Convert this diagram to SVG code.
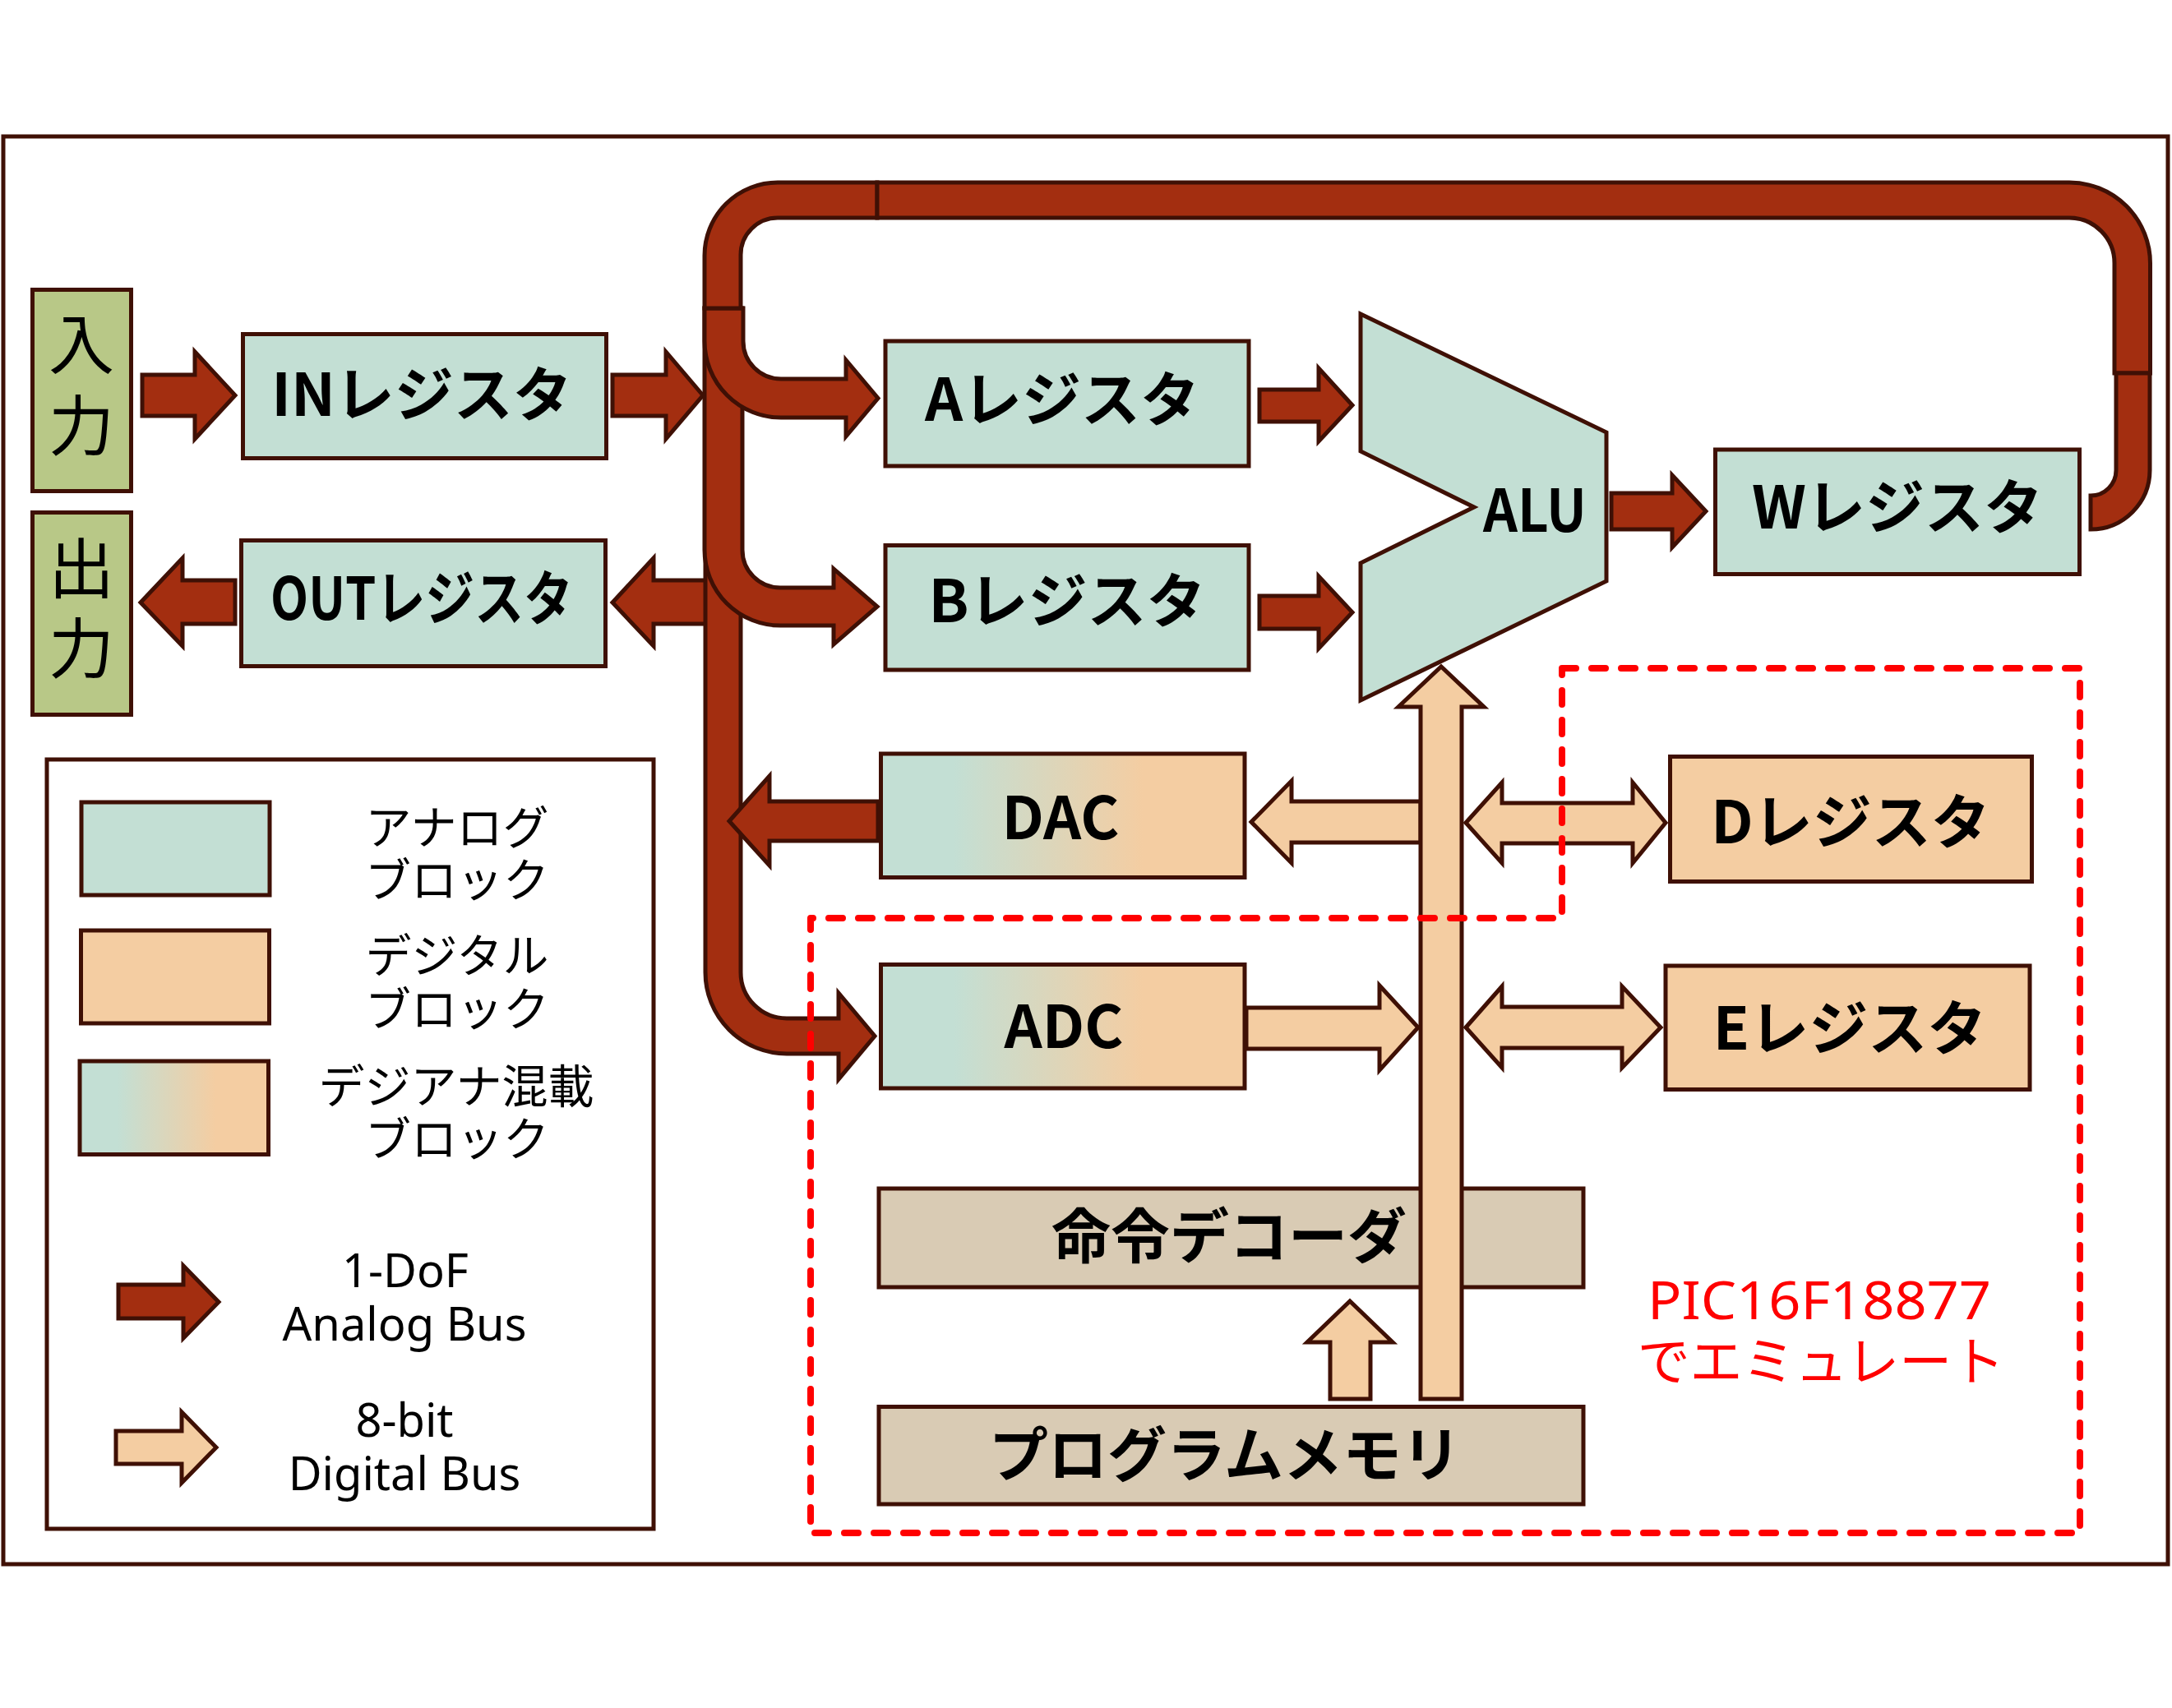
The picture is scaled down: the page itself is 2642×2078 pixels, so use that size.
<svg xmlns="http://www.w3.org/2000/svg" width="2642" height="2078" viewBox="0 0 2642 2078">
<defs>
<style>
.ol{stroke:#3F1005;stroke-width:5;stroke-linejoin:miter}
.an{fill:#A32E10}
.pe{fill:#F4CDA2}
.gr{fill:#C3DFD4}
.tn{fill:#D9CBB4}
.olv{fill:#B8C887}
.mx{fill:url(#mix)}
.reg{font-family:"Noto Sans CJK JP","Noto Sans",sans-serif;font-weight:700;font-size:72px;text-anchor:middle;fill:#000}
.jp{font-family:"Noto Sans CJK JP",sans-serif;font-weight:400;text-anchor:middle;fill:#000}
.lat{font-family:"Noto Sans","Liberation Sans",sans-serif;font-size:56px;text-anchor:middle;fill:#000}
.dash{fill:none;stroke:#FF0000;stroke-width:8;stroke-dasharray:17 19;stroke-linecap:round;stroke-linejoin:round}
</style>
<linearGradient id="mix" x1="0" y1="0" x2="1" y2="0">
<stop offset="0.2" stop-color="#C3DFD4"/>
<stop offset="0.72" stop-color="#F4CDA2"/>
</linearGradient>
</defs>
<rect width="2642" height="2078" fill="#ffffff"/>
<rect id="frame" x="4" y="166" width="2633" height="1737" fill="none" class="ol"/>

<g id="input">
<rect class="ol olv" x="39.5" y="352.5" width="120" height="245"/>
<text class="jp" font-size="80"><tspan x="99" y="448">入</tspan><tspan x="99" y="547">力</tspan></text>
</g>
<g id="output">
<rect class="ol olv" x="39.5" y="623.5" width="120" height="246"/>
<text class="jp" font-size="80"><tspan x="99" y="721">出</tspan><tspan x="99" y="818">力</tspan></text>
</g>
<g id="in-reg">
<rect class="ol gr" x="295.5" y="406.5" width="442" height="151"/>
<text class="reg" x="513" y="506">INレジスタ</text>
</g>
<g id="out-reg">
<rect class="ol gr" x="293.5" y="657.5" width="443" height="153"/>
<text class="reg" x="513" y="754" font-size="63" textLength="368" lengthAdjust="spacingAndGlyphs">OUTレジスタ</text>
</g>
<g id="a-reg">
<rect class="ol gr" x="1077" y="415" width="442" height="152"/>
<text class="reg" x="1292" y="512">Aレジスタ</text>
</g>
<g id="b-reg">
<rect class="ol gr" x="1077" y="663.5" width="442" height="151.5"/>
<text class="reg" x="1298" y="757">Bレジスタ</text>
</g>
<g id="alu">
<path class="ol gr" d="M1655,382 L1954,526 L1954,707 L1655,852 L1655,685 L1793,617 L1655,549 Z"/>
<text class="reg" x="1867" y="647" textLength="126" lengthAdjust="spacingAndGlyphs">ALU</text>
</g>
<g id="w-reg">
<rect class="ol gr" x="2086.5" y="547" width="443" height="151.5"/>
<text class="reg" x="2308" y="643">Wレジスタ</text>
</g>
<g id="dac">
<rect class="ol mx" x="1071.5" y="917" width="442.5" height="150.5"/>
<text class="reg" x="1290" y="1021">DAC</text>
</g>
<g id="adc">
<rect class="ol mx" x="1071.5" y="1173.5" width="442.5" height="150.5"/>
<text class="reg" x="1294" y="1275">ADC</text>
</g>
<g id="d-reg">
<rect class="ol pe" x="2031.5" y="920.5" width="440" height="152"/>
<text class="reg" x="2251" y="1026">Dレジスタ</text>
</g>
<g id="e-reg">
<rect class="ol pe" x="2026" y="1175" width="443" height="150.5"/>
<text class="reg" x="2250" y="1277">Eレジスタ</text>
</g>
<g id="decoder">
<rect class="ol tn" x="1069" y="1446" width="857" height="120"/>
<text class="reg" x="1495" y="1530" font-size="73">命令デコーダ</text>
</g>
<g id="program-memory">
<rect class="ol tn" x="1069" y="1711.5" width="857" height="118.5"/>
<text class="reg" x="1490" y="1796" font-size="73">プログラムメモリ</text>
</g>

<g id="legend">
<rect class="ol" fill="#ffffff" x="57" y="924" width="738" height="936"/>
<rect class="ol gr" x="99" y="976" width="229" height="113"/>
<rect class="ol pe" x="98.5" y="1132" width="229" height="113"/>
<rect class="ol mx" x="97" y="1291" width="229.5" height="113.5"/>
<text class="jp" font-size="56"><tspan x="556" y="1027">アナログ</tspan><tspan x="556" y="1091">ブロック</tspan></text>
<text class="jp" font-size="56"><tspan x="556" y="1183">デジタル</tspan><tspan x="556" y="1248">ブロック</tspan></text>
<text class="jp" font-size="56"><tspan x="555" y="1342">デジアナ混載</tspan><tspan x="556" y="1406">ブロック</tspan></text>
<path class="ol an" d="M144,1563 H223 V1540 L266,1584 L223,1628 V1604 H144 Z"/>
<text class="lat"><tspan x="493" y="1566">1-DoF</tspan><tspan x="492" y="1631">Analog Bus</tspan></text>
<path class="ol pe" d="M141,1741 H221 V1718 L263,1761 L221,1804 V1781 H141 Z"/>
<text class="lat"><tspan x="492" y="1748">8-bit</tspan><tspan x="492" y="1813">Digital Bus</tspan></text>
</g>

<g id="connectors">
<path class="ol an" d="M173,456 H237 V428 L286,481 L237,534 V506 H173 Z"/>
<path class="ol an" d="M745,456 H810 V428 L855,481 L810,534 V506 H745 Z"/>
<path class="ol an" d="M286,706 H222 V679 L171,733 L222,786 V759 H286 Z"/>
<path class="ol an" d="M860,706 H795 V679 L745,733 L795,786 V759 H860 Z"/>
<path class="ol an" d="M858,375 H901 V1183 A56,56 0 0 0 957,1239 H1020 V1208 L1064,1260.5 L1020,1313 V1282 H957 A99,99 0 0 1 858,1183 Z"/>
<path class="ol an" d="M857,375 H903 V669 A46,46 0 0 0 949,715 H1014 V692 L1067,738 L1014,784 V761 H949 A92,92 0 0 1 857,669 Z"/>
<path class="ol an" d="M857,375 H904 V415 A46,46 0 0 0 950,461 H1029 V438 L1068,484.5 L1029,531 V508 H950 A93,93 0 0 1 857,415 Z"/>
<path class="ol an" d="M1067,222 H946 A89,89 0 0 0 857,311 V375 H901 V310 A45,45 0 0 1 946,265 H1067 Z"/>
<path class="ol an" d="M1067,222 H2517 A98.5,98.5 0 0 1 2615.5,320.5 V454 H2572 V320 A55,55 0 0 0 2517,265 H1067 Z"/>
<path class="ol an" d="M2574,454 H2615 V572 A72,72 0 0 1 2543,644 V603 A31,31 0 0 0 2574,572 Z"/>
<path class="ol an" d="M1068,975 H936 V944 L887,999 L936,1053 V1023 H1068 Z"/>
<path class="ol an" d="M1532,474 H1604 V448 L1645,493 L1604,537 V513 H1532 Z"/>
<path class="ol an" d="M1532,725 H1604 V701 L1645,745 L1604,789 V765 H1532 Z"/>
<path class="ol an" d="M1960,600 H2034 V578 L2075,622 L2034,666 V644 H1960 Z"/>
<path class="ol pe" d="M1728,975 H1571 V950 L1522,1000 L1571,1050 V1025 H1728 Z"/>
<path class="ol pe" d="M1516,1226 H1678 V1199 L1725,1250 L1678,1302 V1276 H1516 Z"/>
<path class="ol pe" d="M1783,1001 L1827,952 V977 H1986 V952 L2026,1001 L1986,1050 V1026 H1827 V1050 Z"/>
<path class="ol pe" d="M1783,1250 L1827,1200 V1225 H1973 V1200 L2020,1250 L1973,1299 V1275 H1827 V1299 Z"/>
<path class="ol pe" d="M1618,1702 V1633 H1590 L1642,1583 L1694,1633 H1667 V1702 Z"/>
<path class="ol pe" d="M1728,1702 V860 H1701 L1753,811 L1805,860 H1778 V1702 Z"/>
</g>

<g id="pic-emulation">
<path class="dash" d="M1900,813 H2530 V1865 H986 V1117 H1900 Z"/>
<text font-size="64" fill="#FF0000" text-anchor="middle"><tspan x="2213" y="1605" font-family="'Noto Sans','Liberation Sans',sans-serif" textLength="418" lengthAdjust="spacingAndGlyphs">PIC16F18877</tspan><tspan x="2215" y="1679" font-family="'Noto Sans CJK JP',sans-serif">でエミュレート</tspan></text>
</g>
</svg>
